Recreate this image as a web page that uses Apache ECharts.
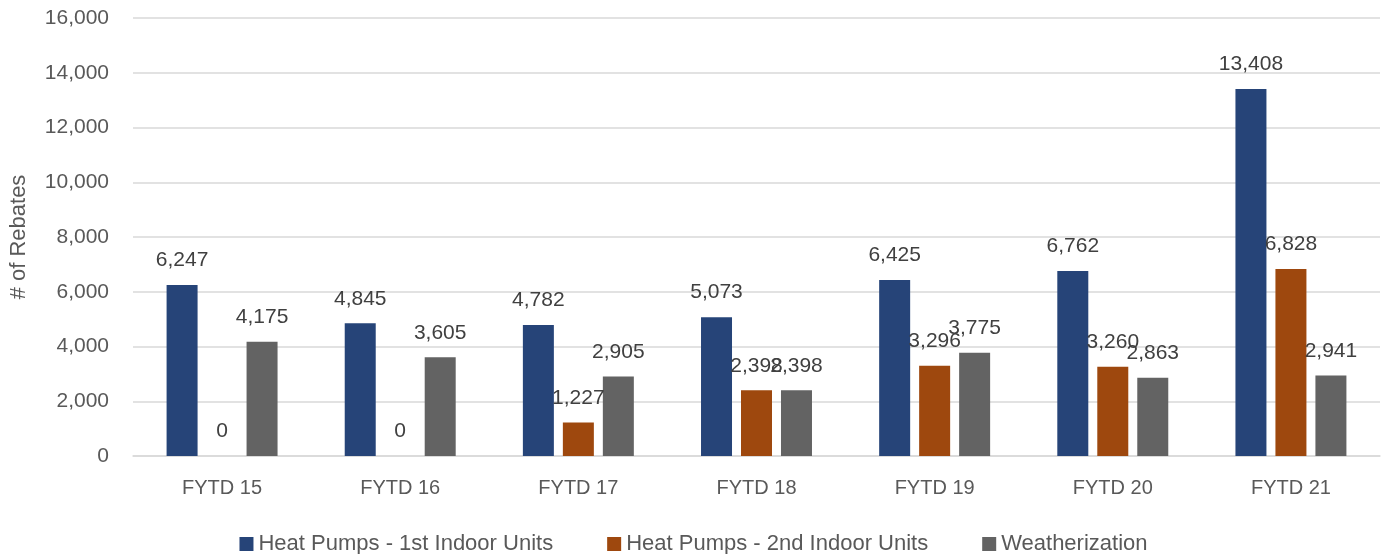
<!DOCTYPE html>
<html>
<head>
<meta charset="utf-8">
<script src="https://cdn.jsdelivr.net/npm/echarts@6/dist/echarts.min.js"></script>
<style>
html,body{margin:0;padding:0;background:#fff;}
#chart{width:1387px;height:554px;}
</style>
</head>
<body>
<div id="chart"></div>
<script>
const categories = ['FYTD 15','FYTD 16','FYTD 17','FYTD 18','FYTD 19','FYTD 20','FYTD 21'];
const seriesNames = ['Heat Pumps - 1st Indoor Units','Heat Pumps - 2nd Indoor Units','Weatherization'];
const heatPumps1st = [6247, 4845, 4782, 5073, 6425, 6762, 13408];
const heatPumps2nd = [0, 0, 1227, 2398, 3296, 3260, 6828];
const weatherization = [4175, 3605, 2905, 2398, 3775, 2863, 2941];
const colors = ['#264478', '#9E480E', '#636363'];
const yAxisTitle = '# of Rebates';

const FONT = '"Liberation Sans", Arial, sans-serif';
const fmt = v => v.toLocaleString('en-US');

function mkSeries(name, data, color) {
  return {
    name: name,
    type: 'bar',
    data: data,
    barWidth: '17.4%',
    barGap: '29%',
    itemStyle: { color: color },
    label: {
      show: true,
      position: 'top',
      distance: 14,
      color: '#404040',
      fontFamily: FONT,
      fontSize: 21,
      formatter: p => fmt(p.value)
    }
  };
}

const chart = echarts.init(document.getElementById('chart'));
chart.setOption({
  animation: false,
  textStyle: { fontFamily: FONT },
  grid: { left: 132, right: 7, top: 18, bottom: 98, containLabel: false },
  legend: {
    top: 528,
    left: 'center',
    itemWidth: 14,
    itemHeight: 14,
    itemGap: 54,
    icon: 'rect',
    textStyle: { color: '#595959', fontSize: 22, fontFamily: FONT },
    data: seriesNames
  },
  xAxis: {
    type: 'category',
    data: categories,
    axisLine: { lineStyle: { color: '#D9D9D9', width: 1.5 } },
    axisTick: { show: false },
    axisLabel: { color: '#595959', fontSize: 20, margin: 22, fontFamily: FONT }
  },
  yAxis: {
    type: 'value',
    min: 0,
    max: 16000,
    interval: 2000,
    name: yAxisTitle,
    nameLocation: 'middle',
    nameGap: 103,
    nameTextStyle: { color: '#595959', fontSize: 22, fontFamily: FONT },
    axisLine: { show: false },
    axisTick: { show: false },
    axisLabel: { color: '#595959', fontSize: 21, margin: 24, fontFamily: FONT, formatter: v => fmt(v) },
    splitLine: { lineStyle: { color: '#D9D9D9', width: 1.5 } }
  },
  series: [
    mkSeries(seriesNames[0], heatPumps1st, colors[0]),
    mkSeries(seriesNames[1], heatPumps2nd, colors[1]),
    mkSeries(seriesNames[2], weatherization, colors[2])
  ]
});
</script>
</body>
</html>
